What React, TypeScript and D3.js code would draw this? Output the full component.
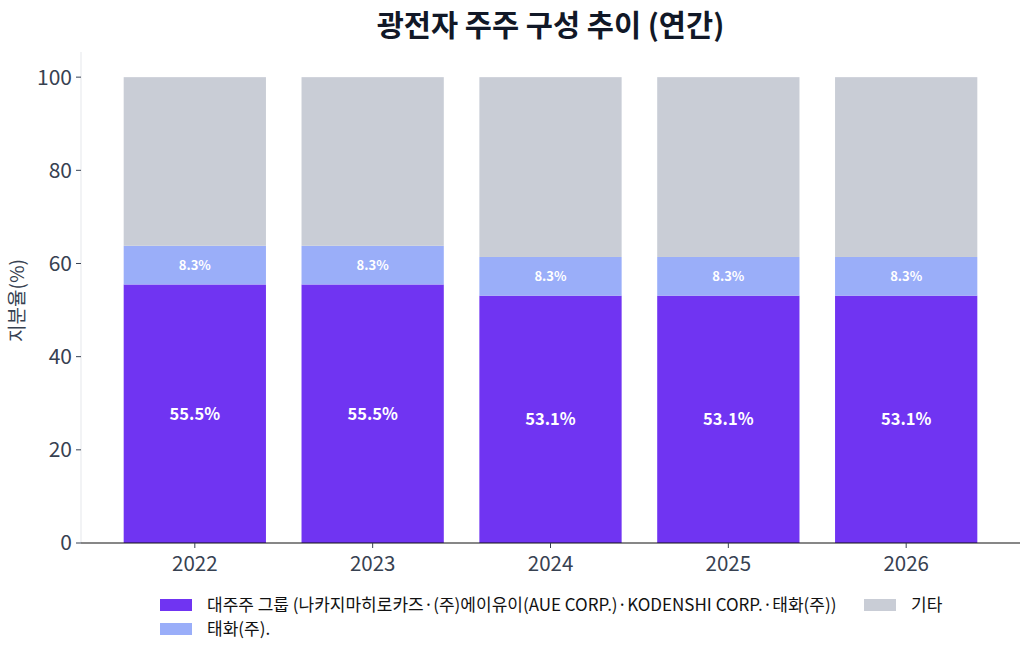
import React from 'react';
import * as d3 from 'd3';

const years = ['2022', '2023', '2024', '2025', '2026'];
const majorGroup = [55.5, 55.5, 53.1, 53.1, 53.1];
const taehwa = [8.3, 8.3, 8.3, 8.3, 8.3];
const others = [36.2, 36.2, 38.6, 38.6, 38.6];
const yTicks = [0, 20, 40, 60, 80, 100];

const seriesNames = [
  '대주주 그룹 (나카지마히로카즈·(주)에이유이(AUE CORP.)·KODENSHI CORP.·태화(주))',
  '태화(주).',
  '기타',
];
const colors = ['#7034F2', '#9AAEF9', '#C9CDD6'];

const W = 1030;
const H = 657;
const margin = { l: 81, r: 10, t: 52, b: 114 };
const FONT = '"Noto Sans CJK KR", "Noto Sans", sans-serif';

export default function App() {
  const x = d3
    .scaleLinear()
    .domain([-0.64, years.length - 1 + 0.64])
    .range([margin.l, W - margin.r]);
  const y = d3
    .scaleLinear()
    .domain([0, 105.4])
    .range([H - margin.b, margin.t]);
  const barW = x(0.8) - x(0);

  const rows = years.map((year, i) => ({
    year,
    major: majorGroup[i],
    taehwa: taehwa[i],
    others: others[i],
  }));
  const stack = d3.stack<any>().keys(['major', 'taehwa', 'others'])(rows);

  const y0 = y(0);

  return (
    <svg width={W} height={H} style={{ position: 'absolute', left: 0, top: 0, fontFamily: FONT }}>
      <rect width={W} height={H} fill="#fff" />
      <text x={(margin.l + W - margin.r) / 2} y={36} textAnchor="middle" fontSize={29.5} fontWeight={700} fill="#111827">
        광전자 주주 구성 추이 (연간)
      </text>

      {/* bars */}
      {stack.map((layer, li) =>
        layer.map((d, i) => (
          <rect
            key={`${li}-${i}`}
            x={x(i) - barW / 2}
            width={barW}
            y={y(d[1])}
            height={y(d[0]) - y(d[1])}
            fill={colors[li]}
          />
        ))
      )}

      {/* value labels */}
      {stack.slice(0, 2).map((layer, li) =>
        layer.map((d, i) => (
          <text
            key={`l-${li}-${i}`}
            x={x(i)}
            y={y((d[0] + d[1]) / 2)}
            dy="0.35em"
            textAnchor="middle"
            fontSize={li === 0 ? 16.5 : 13}
            fontWeight={700}
            fill="#fff"
          >
            {`${(d[1] - d[0]).toFixed(1)}%`}
          </text>
        ))
      )}

      {/* y axis */}
      <line x1={margin.l} x2={margin.l} y1={margin.t} y2={y0} stroke="#e5e7eb" strokeWidth={1} />
      {yTicks.map((t) => (
        <g key={t} transform={`translate(0,${y(t)})`}>
          <line x1={margin.l - 5} x2={margin.l} stroke="#374151" strokeWidth={1} />
          <text x={margin.l - 9} dy="0.35em" textAnchor="end" fontSize={21} fill="#374151">
            {t}
          </text>
        </g>
      ))}
      <text
        transform={`translate(24,${(margin.t + y0) / 2 + 3}) rotate(-90)`}
        textAnchor="middle"
        fontSize={19}
        fill="#374151"
      >
        지분율(%)
      </text>

      {/* x axis */}
      <line x1={margin.l} x2={W - margin.r} y1={y0} y2={y0} stroke="#111" strokeWidth={1.2} />
      {years.map((yr, i) => (
        <g key={yr} transform={`translate(${x(i)},${y0})`}>
          <line y1={0} y2={5} stroke="#374151" />
          <text y={28} textAnchor="middle" fontSize={20.5} fill="#374151">
            {yr}
          </text>
        </g>
      ))}

      {/* legend */}
      {[
        { name: seriesNames[0], color: colors[0], lx: 160, ly: 599 },
        { name: seriesNames[1], color: colors[1], lx: 160, ly: 623 },
        { name: seriesNames[2], color: colors[2], lx: 864, ly: 599 },
      ].map((l) => (
        <g key={l.name}>
          <rect x={l.lx} y={l.ly} width={32} height={12} fill={l.color} />
          <text x={l.lx + 47} y={l.ly + 6} dy="0.35em" fontSize={17} fill="#111">
            {l.name}
          </text>
        </g>
      ))}
    </svg>
  );
}
